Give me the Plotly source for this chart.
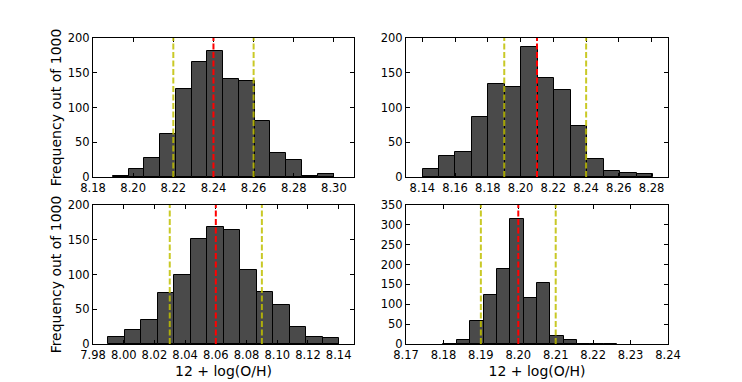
import plotly.graph_objects as go
from plotly.subplots import make_subplots

# histogram counts (out of 1000) for the four runs
counts_tl = [2, 11, 27, 62, 126, 166, 182, 141, 138, 81, 35, 24, 1, 4]
counts_tr = [11, 30, 36, 86, 134, 130, 187, 142, 125, 74, 26, 9, 6, 4]
counts_bl = [10, 20, 34, 74, 99, 151, 168, 164, 106, 75, 56, 25, 10, 8]
counts_br = [1, 10, 59, 124, 188, 314, 117, 154, 20, 11, 1, 0, 1]

# first bin edge and bin width
bin_start = [8.1899, 8.1401, 7.9898, 8.1800]
bin_width = [0.00785, 0.01006, 0.01075, 0.003571]

# median (red) and 1-sigma bounds (yellow)
medians = [8.24, 8.21, 8.06, 8.20]
lower = [8.22, 8.19, 8.03, 8.19]
upper = [8.26, 8.24, 8.09, 8.21]

x_ranges = [[8.18, 8.31], [8.13, 8.29], [7.98, 8.15], [8.17, 8.24]]
x_tick0 = [8.18, 8.14, 7.98, 8.17]
x_dtick = [0.02, 0.02, 0.02, 0.01]
y_max = [200, 200, 200, 350]

all_counts = [counts_tl, counts_tr, counts_bl, counts_br]
cells = [(1, 1), (1, 2), (2, 1), (2, 2)]

W, H = 734, 374  # page has an 8px body margin

fig = make_subplots(rows=2, cols=2)

for k, (r, c) in enumerate(cells):
    cnt = all_counts[k]
    centres = [bin_start[k] + bin_width[k] * (i + 0.5) for i in range(len(cnt))]
    fig.add_trace(go.Bar(
        x=centres, y=cnt, width=[bin_width[k]] * len(cnt),
        marker=dict(color="#4a4a4a", line=dict(color="black", width=1)),
        showlegend=False, hoverinfo="x+y"
    ), row=r, col=c)
    for xv, col in [(lower[k], "rgba(191,191,0,0.85)"), (upper[k], "rgba(191,191,0,0.85)"),
                    (medians[k], "red")]:
        fig.add_vline(x=xv, row=r, col=c,
                      line=dict(color=col, width=2, dash="6px,2.5px"))


def px_x(p):
    return (p - 8) / W


def px_y(p):
    return 1 - (p - 8) / H


dom_x = {1: [px_x(93), px_x(354)], 2: [px_x(406), px_x(668)]}
dom_y = {1: [px_y(177), px_y(38)], 2: [px_y(344), px_y(205)]}

for k, (r, c) in enumerate(cells):
    xa = "xaxis" if k == 0 else f"xaxis{k + 1}"
    ya = "yaxis" if k == 0 else f"yaxis{k + 1}"
    common = dict(showline=True, linecolor="black", linewidth=1, mirror="allticks",
                  ticks="inside", ticklen=4, tickcolor="black", showgrid=False,
                  zeroline=False, automargin=False,
                  tickfont=dict(size=11.5, color="black"))
    fig.layout[xa].update(domain=dom_x[c], range=x_ranges[k], tick0=x_tick0[k],
                          dtick=x_dtick[k], tickformat=".2f", **common)
    fig.layout[ya].update(domain=dom_y[r], range=[0, y_max[k]], dtick=50, **common)
    if c == 1:
        fig.layout[ya].title = dict(text="Frequency out of 1000", font=dict(size=14), standoff=2)
    if r == 2:
        fig.layout[xa].title = dict(text="12 + log(O/H)", font=dict(size=14), standoff=5)

fig.update_layout(
    width=W, height=H,
    margin=dict(l=0, r=0, t=0, b=0),
    plot_bgcolor="white", paper_bgcolor="white",
    bargap=0,
    font=dict(family="DejaVu Sans", color="black"),
)

fig.write_html("out.html")
